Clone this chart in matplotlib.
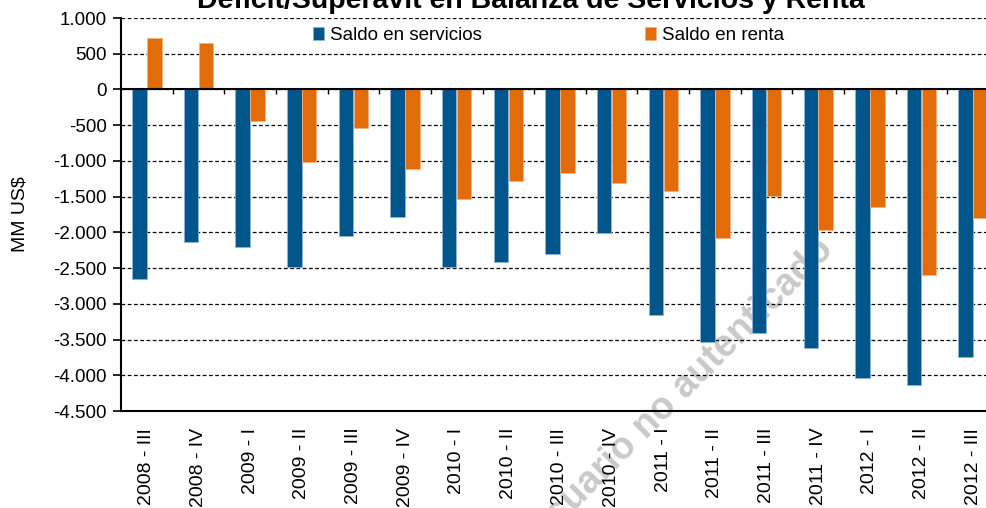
import numpy as np
from matplotlib import pyplot as plt
from matplotlib.ticker import FuncFormatter

plt.rcParams['font.family'] = ['Liberation Sans', 'DejaVu Sans']

#Data (MM US$)
quarters = ['2008 - III', '2008 - IV', '2009 - I', '2009 - II', '2009 - III', '2009 - IV',
            '2010 - I', '2010 - II', '2010 - III', '2010 - IV', '2011 - I', '2011 - II',
            '2011 - III', '2011 - IV', '2012 - I', '2012 - II', '2012 - III']
servicios = [-2650, -2140, -2210, -2480, -2045, -1780, -2480, -2410, -2300, -2015,
             -3150, -3530, -3415, -3625, -4045, -4130, -3740]
renta = [715, 645, -435, -1010, -545, -1120, -1540, -1285, -1175, -1305,
         -1415, -2075, -1485, -1960, -1640, -2590, -1805]

blue = '#00558b'
orange = '#e36c0a'

fig = plt.figure(figsize=(9.86, 5.08), dpi=100)
ax = fig.add_axes([121/986, (508-411)/508, (999-121)/986, (411-18)/508])

x = np.arange(len(quarters))
w = 0.28
ax.bar(x-0.145, servicios, w, color=blue, edgecolor='#8fb3d6', linewidth=0.6, zorder=3, label='Saldo en servicios')
ax.bar(x+0.145, renta, w, color=orange, edgecolor='#f4b183', linewidth=0.6, zorder=3, label='Saldo en renta')

ax.set_xlim(-0.5, len(quarters)-0.5)
ax.set_ylim(-4500, 1000)
ax.set_yticks(np.arange(-4500, 1001, 500))
ax.yaxis.set_major_formatter(FuncFormatter(lambda v, p: '{:,.0f}'.format(v).replace(',', '.')))
ax.yaxis.grid(True, color='black', linestyle=(0, (3, 2)), linewidth=0.9, zorder=1)
ax.set_axisbelow(True)

#zero line with category tick marks
ax.axhline(0, color='black', linewidth=1.5, zorder=4)
ax.vlines(x[:-1]+0.5, -70, 0, color='black', linewidth=1.0, zorder=4)

ax.set_xticks(x)
ax.set_xticklabels(quarters, rotation=90, fontsize=14)
ax.tick_params(axis='x', length=0, pad=12)
ax.tick_params(axis='y', labelsize=13.5, length=6, width=1.2, direction='out', pad=4)
for s in ['top', 'right']:
    ax.spines[s].set_visible(False)
ax.spines['left'].set_linewidth(1.5)
ax.spines['bottom'].set_linewidth(1.5)
ax.set_ylabel('MM US$', fontsize=14)
ax.yaxis.set_label_coords(-92/878, 0.5)

ax.legend(loc='upper left', bbox_to_anchor=(0.21, 0.997), ncol=2, frameon=False,
          fontsize=13.5, handlelength=0.6, handleheight=0.75, handletextpad=0.3,
          columnspacing=8.7, borderaxespad=0)

fig.text(531/986, 1 - 8/508, 'Déficit/Superávit en Balanza de Servicios y Renta',
         ha='center', va='baseline', fontsize=20.5, fontweight='bold')

#watermark
ax.text(680/986, 1 - 392/508, 'Usuario no autenticado', transform=fig.transFigure,
        rotation=45, rotation_mode='anchor', ha='center', va='center',
        fontsize=27, fontweight='bold', color='#c9c9c9', zorder=0.5)

fig.savefig('out.png', dpi=100)
